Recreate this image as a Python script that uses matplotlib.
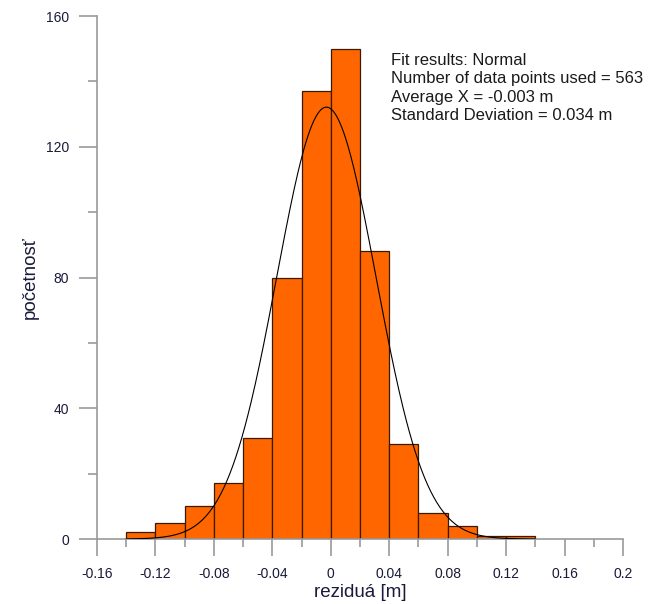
import numpy as np
import matplotlib
matplotlib.use("Agg")
import matplotlib.pyplot as plt
from matplotlib.ticker import MultipleLocator

plt.rcParams['font.family'] = ['Liberation Sans', 'DejaVu Sans']

bin_edges = [-0.14, -0.12, -0.10, -0.08, -0.06, -0.04, -0.02, 0.0, 0.02, 0.04, 0.06, 0.08, 0.10, 0.12, 0.14]
counts = [2, 5, 10, 17, 31, 80, 137, 150, 88, 29, 8, 4, 1, 1]
n_points = 563
mean_x = -0.003
std_x = 0.034
fit_lines = ["Fit results: Normal",
             "Number of data points used = 563",
             "Average X = -0.003 m",
             "Standard Deviation = 0.034 m"]
x_ticks = [-0.16, -0.12, -0.08, -0.04, 0, 0.04, 0.08, 0.12, 0.16, 0.2]
x_ticklabels = ["-0.16", "-0.12", "-0.08", "-0.04", "0", "0.04", "0.08", "0.12", "0.16", "0.2"]
y_ticks = [0, 40, 80, 120, 160]

fig = plt.figure(figsize=(6.51, 6.04), dpi=100)
ax = fig.add_axes([0.149, 0.1076, 0.808, 0.8659])

edges = np.array(bin_edges)
widths = np.diff(edges)
ax.bar(edges[:-1], counts, width=widths, align='edge', color='#FF6600',
       edgecolor='#3a1a00', linewidth=0.9, zorder=2)

bw = widths[0]
xs = np.linspace(edges[0], edges[-1], 400)
ys = n_points * bw / (std_x * np.sqrt(2 * np.pi)) * np.exp(-0.5 * ((xs - mean_x) / std_x) ** 2)
ax.plot(xs, ys, color='black', linewidth=0.8, zorder=3)

ax.set_xlim(-0.16, 0.2)
ax.set_ylim(0, 160)
ax.set_xticks(x_ticks)
ax.set_xticklabels(x_ticklabels)
ax.set_yticks(y_ticks)
ax.xaxis.set_minor_locator(MultipleLocator(0.02))
ax.yaxis.set_minor_locator(MultipleLocator(20))

for s in ['top', 'right']:
    ax.spines[s].set_visible(False)
for s in ['left', 'bottom']:
    ax.spines[s].set_color('#999999')
    ax.spines[s].set_linewidth(1.2)

ax.tick_params(axis='both', which='major', length=13, width=1.2, color='#999999',
               labelsize=10, labelcolor='#1a1a3a', pad=7)
ax.tick_params(axis='both', which='minor', length=6.5, width=1.2, color='#999999')
ax.tick_params(axis='x', which='major', length=12, pad=8.5)
ax.tick_params(axis='x', which='minor', length=6)

ax.set_xlabel("reziduá [m]", fontsize=13.5, color='#1a1a3a', labelpad=2)
ax.set_ylabel("početnosť", fontsize=13.5, color='#1a1a3a', labelpad=5)

ax.text(0.0412, 148.8, "\n".join(fit_lines), fontsize=12, color='#1a1a1a',
        va='top', ha='left', linespacing=1.3, zorder=4)

fig.savefig("out.png", dpi=100)
